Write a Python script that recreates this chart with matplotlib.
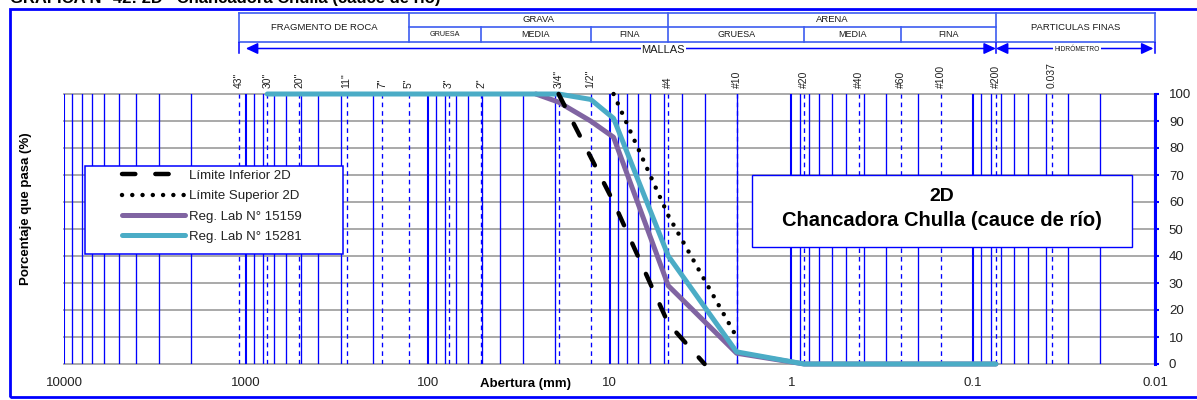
import matplotlib

matplotlib.use("Agg")
import matplotlib.pyplot as plt
import matplotlib.ticker as mticker
import matplotlib.transforms as mtransforms
from matplotlib.patches import Rectangle

# sieve sizes shown on the top axis
sieve_labels = ['43"', '30"', '20"', '11"', '7"', '5"', '3"', '2"', '3/4"', '1/2"',
                "#4", "#10", "#20", "#40", "#60", "#100", "#200", "0.037"]
sieve_mm = [1092.2, 762.0, 508.0, 279.4, 177.8, 127.0, 76.2, 50.8, 19.05, 12.7,
            4.75, 2.00, 0.85, 0.425, 0.25, 0.15, 0.075, 0.037]

# band limits 2D
lower_mm = [19.05, 9.5, 4.75, 3.0]
lower_pct = [100, 60, 15, 0]
upper_mm = [9.5, 4.75, 2.0]
upper_pct = [100, 55, 10]

# lab results
lab15159_mm = [25.4, 19.05, 12.7, 9.5, 4.75, 2.0, 0.85, 0.425, 0.25, 0.15, 0.075]
lab15159_pct = [100, 97, 90, 84, 29, 4, 0, 0, 0, 0, 0]
lab15281_mm = [762.0, 19.05, 12.7, 9.5, 4.75, 2.0, 0.85, 0.425, 0.25, 0.15, 0.075]
lab15281_pct = [100, 100, 98, 91, 40, 4.5, 0, 0, 0, 0, 0]

# soil classification header (boundaries in mm)
header_edges = [1092.2, 127.0, 50.8, 12.7, 4.75, 0.85, 0.25, 0.075, 0.01]

decade_labels = ["10000", "1000", "100", "10", "1", "0.1", "0.01"]
decade_values = [10000, 1000, 100, 10, 1, 0.1, 0.01]

BLUE = "#0000ff"
HDR = "#3d5cf0"
W, H = 1197, 400

plt.rcParams["font.family"] = ["Liberation Sans", "DejaVu Sans"]


def fx(x):
    return x / W


def fy(y):
    return 1 - y / H


fig = plt.figure(figsize=(W / 100, H / 100), dpi=100)
ax = fig.add_axes([fx(64), fy(364), (1155 - 64) / W, 270 / H])
ax.set_xscale("log")

# grid: gray horizontals, blue log verticals, dashed sieve lines
for p in range(0, 101, 10):
    ax.axhline(p, color="#a3a3a3", lw=1.3, zorder=1, clip_on=False)
for k in range(-2, 5):
    for n in range(1, 10):
        v = n * 10.0 ** k
        if 0.01 <= v <= 10000:
            ax.axvline(v, color=BLUE, lw=1.5 if n == 1 else 0.95, zorder=2)
for mm in sieve_mm:
    ax.axvline(mm, color=BLUE, lw=0.95, ls=(0, (3.5, 3)), zorder=2)

l15159, = ax.plot(lab15159_mm, lab15159_pct, color="#8064a2", lw=3.6,
                  solid_capstyle="round", solid_joinstyle="round", zorder=4,
                  clip_on=False, label="Reg. Lab N° 15159")
l15281, = ax.plot(lab15281_mm, lab15281_pct, color="#4bacc6", lw=3.6,
                  solid_capstyle="round", solid_joinstyle="round", zorder=5,
                  clip_on=False, label="Reg. Lab N° 15281")
llow, = ax.plot(lower_mm, lower_pct, color="black", lw=3.2, ls=(0, (3, 4.5)),
                dash_capstyle="round", zorder=6, clip_on=False,
                label="Límite Inferior 2D")
lup, = ax.plot(upper_mm, upper_pct, color="black", lw=3.2, ls=(0, (0.01, 2.3)),
               dash_capstyle="round", zorder=6, clip_on=False,
               label="Límite Superior 2D")

ax.set_xlim(10000, 0.01)
ax.set_ylim(0, 100)

for s in ["top", "bottom", "left"]:
    ax.spines[s].set_visible(False)
ax.spines["right"].set_color(BLUE)
ax.spines["right"].set_linewidth(2.2)
ax.yaxis.tick_right()
ax.set_yticks(range(0, 101, 10))
ax.tick_params(axis="y", direction="out", length=3, width=1.5, color=BLUE,
               labelcolor="#222222", labelsize=9.5, pad=7)
ax.set_xticks(decade_values)
ax.set_xticklabels(decade_labels)
ax.xaxis.set_minor_locator(mticker.NullLocator())
ax.tick_params(axis="x", length=0, pad=9.5, labelsize=9.5, labelcolor="#222222")

# sieve labels on top
trans_top = mtransforms.blended_transform_factory(ax.transData, ax.transAxes)
for lab, mm in zip(sieve_labels, sieve_mm):
    ax.text(mm, 1 + 6 / 270, lab, rotation=90, ha="center", va="bottom",
            fontsize=7.5, color="#222222", transform=trans_top, clip_on=False)

# classification header
trans_hdr = mtransforms.blended_transform_factory(ax.transData, fig.transFigure)
y_top, y_mid, y_bot = fy(12.7), fy(26.5), fy(41.7)
kw = dict(color=HDR, lw=1.2, transform=trans_hdr, clip_on=False)
ax.plot([header_edges[0], header_edges[-1]], [y_top, y_top], **kw)
ax.plot([header_edges[0], header_edges[-1]], [y_bot, y_bot], **kw)
ax.plot([header_edges[1], header_edges[7]], [y_mid, y_mid], **kw)
for i, e in enumerate(header_edges):
    if i in (0, 1, 4, 7, 8):
        ax.plot([e, e], [y_top, y_bot], **kw)
    else:
        ax.plot([e, e], [y_mid, y_bot], **kw)


def gmid(a, b):
    return (a * b) ** 0.5


def htext(x, y, s, size):
    ax.text(x, y, s, ha="center", va="center", fontsize=size, color="#1a1a1a",
            transform=trans_hdr, clip_on=False)


y_row1 = (y_top + y_mid) / 2
y_row2 = (y_mid + y_bot) / 2
y_full = (y_top + y_bot) / 2
htext(gmid(header_edges[0], header_edges[1]), y_full, "FRAGMENTO DE ROCA", 6.8)
htext(gmid(header_edges[1], header_edges[4]), y_row1, "GRAVA", 6.8)
htext(gmid(header_edges[4], header_edges[7]), y_row1, "ARENA", 6.8)
htext(gmid(header_edges[7], header_edges[8]), y_full, "PARTICULAS FINAS", 6.8)
htext(gmid(header_edges[1], header_edges[2]), y_row2, "GRUESA", 5.2)
htext(gmid(header_edges[2], header_edges[3]), y_row2, "MEDIA", 6.5)
htext(gmid(header_edges[3], header_edges[4]), y_row2, "FINA", 6.5)
htext(gmid(header_edges[4], header_edges[5]), y_row2, "GRUESA", 6.5)
htext(gmid(header_edges[5], header_edges[6]), y_row2, "MEDIA", 6.5)
htext(gmid(header_edges[6], header_edges[7]), y_row2, "FINA", 6.5)

# MALLAS / HIDROMETRO arrows
y_arr = fy(48.5)
akw = dict(arrowstyle="<|-|>,head_length=0.6,head_width=0.28", color=BLUE,
           lw=1.1, shrinkA=0, shrinkB=0, mutation_scale=12)
ax.annotate("", xy=(1000, y_arr), xytext=(0.075, y_arr), xycoords=trans_hdr,
            textcoords=trans_hdr, arrowprops=akw, annotation_clip=False)
ax.annotate("", xy=(0.075, y_arr), xytext=(0.0102, y_arr), xycoords=trans_hdr,
            textcoords=trans_hdr, arrowprops=akw, annotation_clip=False)
for e in (header_edges[0], header_edges[7], header_edges[8]):
    ax.plot([e, e], [fy(43), fy(53)], color=BLUE, lw=1.1, transform=trans_hdr,
            clip_on=False)
ax.text(5.07, fy(50), "MALLAS", ha="center", va="center", fontsize=8,
        color="#1a1a1a", transform=trans_hdr, clip_on=False,
        bbox=dict(facecolor="white", edgecolor="none", pad=0.5))
ax.text(0.0268, fy(49.5), "HIDRÓMETRO", ha="center", va="center", fontsize=4.8,
        color="#1a1a1a", transform=trans_hdr, clip_on=False,
        bbox=dict(facecolor="white", edgecolor="none", pad=0.8))

# legend
ax.add_patch(Rectangle((fx(85), fy(254)), (343 - 85) / W, (254 - 166) / H,
                       transform=fig.transFigure, facecolor="white",
                       edgecolor=BLUE, lw=1.1, zorder=7, clip_on=False))
leg = ax.legend(handles=[llow, lup, l15159, l15281], loc="upper left",
                bbox_to_anchor=(fx(122), fy(169.5)), bbox_transform=fig.transFigure,
                frameon=False, borderpad=0, borderaxespad=0, handlelength=4.75,
                handletextpad=0.35, labelspacing=0.62, fontsize=9.5)
leg.set_zorder(8)
for t in leg.get_texts():
    t.set_color("#222222")

# title box
ax.add_patch(Rectangle((fx(752), fy(247)), (1132 - 752) / W, (247 - 175) / H,
                       transform=fig.transFigure, facecolor="white",
                       edgecolor=BLUE, lw=1.0, zorder=7, clip_on=False))
ax.text(fx(942), fy(197), "2D", transform=fig.transFigure, ha="center",
        va="center", fontsize=14, weight="bold", zorder=8)
ax.text(fx(942), fy(221), "Chancadora Chulla (cauce de río)",
        transform=fig.transFigure, ha="center", va="center", fontsize=14.5,
        weight="bold", zorder=8)

fig.text(fx(26), fy(209), "Porcentaje que pasa (%)", rotation=90, ha="center",
         va="center", fontsize=9.5, weight="bold")
fig.text(fx(526), fy(384), "Abertura (mm)", ha="center", va="center",
         fontsize=9.5, weight="bold")

# page title (cut off at top, as in the source page) and outer frame
fig.text(fx(10), fy(3.5), "GRÁFICA N° 42: 2D   Chancadora Chulla (cauce de río)",
         ha="left", va="baseline", fontsize=12, weight="bold")
fig.add_artist(Rectangle((fx(10), fy(397)), (W + 20) / W, (397 - 9) / H,
                         transform=fig.transFigure, facecolor="none",
                         edgecolor=BLUE, lw=2.0))

fig.savefig("out.png", dpi=100)
